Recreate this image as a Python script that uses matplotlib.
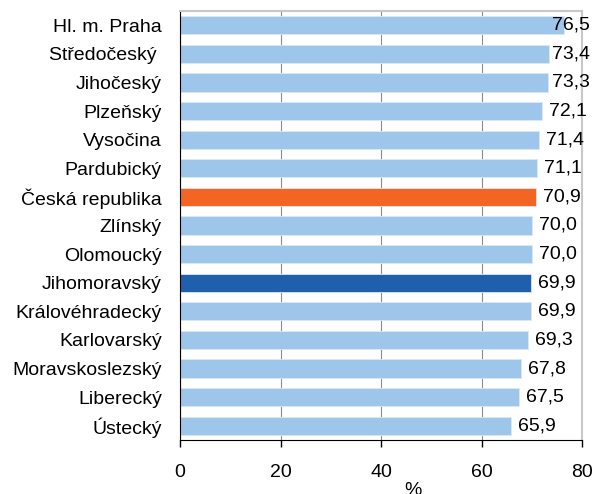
import matplotlib
matplotlib.use('Agg')
import matplotlib.pyplot as plt

plt.rcParams['font.family'] = ['Liberation Sans', 'DejaVu Sans']

regions = ['Hl. m. Praha', 'Středočeský ', 'Jihočeský', 'Plzeňský', 'Vysočina',
           'Pardubický', 'Česká republika', 'Zlínský', 'Olomoucký', 'Jihomoravský',
           'Královéhradecký', 'Karlovarský', 'Moravskoslezský', 'Liberecký', 'Ústecký']
values = [76.5, 73.4, 73.3, 72.1, 71.4, 71.1, 70.9, 70.0, 70.0, 69.9, 69.9, 69.3, 67.8, 67.5, 65.9]
value_labels = ['76,5', '73,4', '73,3', '72,1', '71,4', '71,1', '70,9', '70,0', '70,0', '69,9',
                '69,9', '69,3', '67,8', '67,5', '65,9']
xticks = [0, 20, 40, 60, 80]

light = '#9DC6EA'
colors = []
for r in regions:
    if r == 'Česká republika':
        colors.append('#F26522')
    elif r == 'Jihomoravský':
        colors.append('#1F5FAD')
    else:
        colors.append(light)

fs = 14

fig = plt.figure(figsize=(5.95, 4.94), dpi=100)
ax = fig.add_axes([180/595, 54/494, 402/595, 429/494])

ypos = list(range(len(regions)))
ax.barh(ypos, values, height=0.64, color=colors, edgecolor='#d8e8f6', linewidth=0.6, zorder=2)

for y, v, lab in zip(ypos, values, value_labels):
    ax.text(min(v + 1.4, 74.1), y, lab, va='center', ha='left', fontsize=fs, zorder=3)

ax.set_xlim(0, 80)
ax.set_ylim(len(regions) - 0.5, -0.5)
ax.set_xticks(xticks)
ax.set_xticklabels([str(t) for t in xticks], fontsize=fs)
ax.set_yticks(ypos)
ax.set_yticklabels(regions, fontsize=fs)
ax.tick_params(axis='y', length=0, pad=13)
ax.tick_params(axis='x', direction='out', length=5, width=1, pad=12)

ax.xaxis.grid(True, color='#8c8c8c', linewidth=0.8, zorder=1)
ax.set_axisbelow(True)

ax.spines['left'].set_color('black')
ax.spines['bottom'].set_color('black')
ax.spines['top'].set_color('#c8c8c8')
ax.spines['right'].set_color('#c8c8c8')
ax.spines['top'].set_linewidth(1.5)
ax.spines['right'].set_linewidth(1.5)

ax.set_xlabel('%', fontsize=fs, x=(413 - 180) / 402, labelpad=1)

fig.savefig('out.png', dpi=100)
